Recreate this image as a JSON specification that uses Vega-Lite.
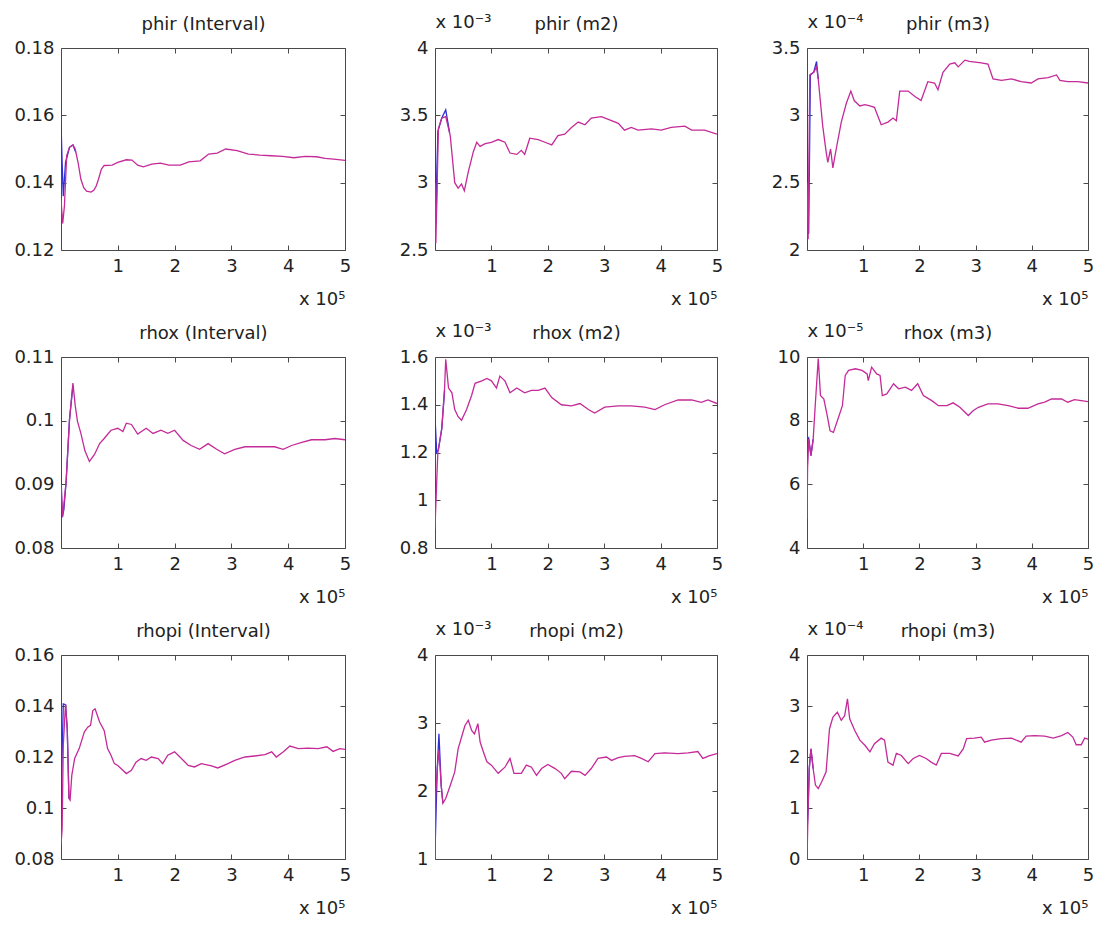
{
"$schema": "https://vega.github.io/schema/vega-lite/v6.json",
"background": "white",
"padding": {"left": 13, "top": 12, "right": 5, "bottom": 5},
"data": {"values": [
{"p":1,"s":"a","x":0,"y":0.158},{"p":1,"s":"a","x":2000,"y":0.146},{"p":1,"s":"a","x":4000,"y":0.136},{"p":1,"s":"a","x":8000,"y":0.146},{"p":1,"s":"a","x":15000,"y":0.1505},{"p":1,"s":"a","x":21000,"y":0.1512},{"p":1,"s":"a","x":26000,"y":0.149},
{"p":1,"s":"b","x":0,"y":0.135},{"p":1,"s":"b","x":3000,"y":0.1279},{"p":1,"s":"b","x":6000,"y":0.133},{"p":1,"s":"b","x":10000,"y":0.148},{"p":1,"s":"b","x":15000,"y":0.1505},{"p":1,"s":"b","x":21000,"y":0.1512},{"p":1,"s":"b","x":25000,"y":0.15},{"p":1,"s":"b","x":30000,"y":0.146},{"p":1,"s":"b","x":35000,"y":0.141},{"p":1,"s":"b","x":40000,"y":0.1385},{"p":1,"s":"b","x":45000,"y":0.1375},{"p":1,"s":"b","x":53000,"y":0.1372},{"p":1,"s":"b","x":58000,"y":0.1378},{"p":1,"s":"b","x":62000,"y":0.139},{"p":1,"s":"b","x":66000,"y":0.141},{"p":1,"s":"b","x":71000,"y":0.144},{"p":1,"s":"b","x":76000,"y":0.1451},{"p":1,"s":"b","x":90000,"y":0.1452},{"p":1,"s":"b","x":100000,"y":0.146},{"p":1,"s":"b","x":115000,"y":0.1468},{"p":1,"s":"b","x":125000,"y":0.1467},{"p":1,"s":"b","x":135000,"y":0.1452},{"p":1,"s":"b","x":145000,"y":0.1447},{"p":1,"s":"b","x":160000,"y":0.1455},{"p":1,"s":"b","x":175000,"y":0.1458},{"p":1,"s":"b","x":190000,"y":0.1452},{"p":1,"s":"b","x":210000,"y":0.1452},{"p":1,"s":"b","x":225000,"y":0.1462},{"p":1,"s":"b","x":245000,"y":0.1465},{"p":1,"s":"b","x":260000,"y":0.1485},{"p":1,"s":"b","x":275000,"y":0.1488},{"p":1,"s":"b","x":290000,"y":0.15},{"p":1,"s":"b","x":310000,"y":0.1495},{"p":1,"s":"b","x":330000,"y":0.1485},{"p":1,"s":"b","x":350000,"y":0.1482},{"p":1,"s":"b","x":370000,"y":0.148},{"p":1,"s":"b","x":390000,"y":0.1478},{"p":1,"s":"b","x":410000,"y":0.1474},{"p":1,"s":"b","x":430000,"y":0.1478},{"p":1,"s":"b","x":450000,"y":0.1477},{"p":1,"s":"b","x":465000,"y":0.1472},{"p":1,"s":"b","x":480000,"y":0.147},{"p":1,"s":"b","x":500000,"y":0.1466},
{"p":2,"s":"a","x":0,"y":3.55e-3},{"p":2,"s":"a","x":2000,"y":2.7e-3},{"p":2,"s":"a","x":5000,"y":3.38e-3},{"p":2,"s":"a","x":12000,"y":3.48e-3},{"p":2,"s":"a","x":19000,"y":3.54e-3},{"p":2,"s":"a","x":26000,"y":3.37e-3},
{"p":2,"s":"b","x":0,"y":3.0e-3},{"p":2,"s":"b","x":1500,"y":2.55e-3},{"p":2,"s":"b","x":6000,"y":3.4e-3},{"p":2,"s":"b","x":12000,"y":3.48e-3},{"p":2,"s":"b","x":19000,"y":3.49e-3},{"p":2,"s":"b","x":27000,"y":3.35e-3},{"p":2,"s":"b","x":35000,"y":3.0e-3},{"p":2,"s":"b","x":41000,"y":2.96e-3},{"p":2,"s":"b","x":47000,"y":2.99e-3},{"p":2,"s":"b","x":52000,"y":2.94e-3},{"p":2,"s":"b","x":59000,"y":3.08e-3},{"p":2,"s":"b","x":68000,"y":3.23e-3},{"p":2,"s":"b","x":74000,"y":3.3e-3},{"p":2,"s":"b","x":80000,"y":3.27e-3},{"p":2,"s":"b","x":89000,"y":3.29e-3},{"p":2,"s":"b","x":100000,"y":3.3e-3},{"p":2,"s":"b","x":112000,"y":3.32e-3},{"p":2,"s":"b","x":124000,"y":3.3e-3},{"p":2,"s":"b","x":133000,"y":3.22e-3},{"p":2,"s":"b","x":145000,"y":3.21e-3},{"p":2,"s":"b","x":153000,"y":3.24e-3},{"p":2,"s":"b","x":159000,"y":3.21e-3},{"p":2,"s":"b","x":168000,"y":3.33e-3},{"p":2,"s":"b","x":183000,"y":3.32e-3},{"p":2,"s":"b","x":195000,"y":3.3e-3},{"p":2,"s":"b","x":207000,"y":3.28e-3},{"p":2,"s":"b","x":218000,"y":3.35e-3},{"p":2,"s":"b","x":230000,"y":3.36e-3},{"p":2,"s":"b","x":242000,"y":3.41e-3},{"p":2,"s":"b","x":254000,"y":3.45e-3},{"p":2,"s":"b","x":266000,"y":3.43e-3},{"p":2,"s":"b","x":277000,"y":3.48e-3},{"p":2,"s":"b","x":295000,"y":3.49e-3},{"p":2,"s":"b","x":313000,"y":3.46e-3},{"p":2,"s":"b","x":325000,"y":3.44e-3},{"p":2,"s":"b","x":336000,"y":3.39e-3},{"p":2,"s":"b","x":348000,"y":3.41e-3},{"p":2,"s":"b","x":360000,"y":3.39e-3},{"p":2,"s":"b","x":384000,"y":3.4e-3},{"p":2,"s":"b","x":401000,"y":3.39e-3},{"p":2,"s":"b","x":419000,"y":3.41e-3},{"p":2,"s":"b","x":443000,"y":3.42e-3},{"p":2,"s":"b","x":455000,"y":3.39e-3},{"p":2,"s":"b","x":478000,"y":3.39e-3},{"p":2,"s":"b","x":500000,"y":3.36e-3},
{"p":3,"s":"a","x":0,"y":3.05e-4},{"p":3,"s":"a","x":1500,"y":2.3e-4},{"p":3,"s":"a","x":3000,"y":2.12e-4},{"p":3,"s":"a","x":6000,"y":3.3e-4},{"p":3,"s":"a","x":12000,"y":3.32e-4},{"p":3,"s":"a","x":17000,"y":3.4e-4},{"p":3,"s":"a","x":20000,"y":3.27e-4},
{"p":3,"s":"b","x":0,"y":2.5e-4},{"p":3,"s":"b","x":2000,"y":2.08e-4},{"p":3,"s":"b","x":5000,"y":3.3e-4},{"p":3,"s":"b","x":12000,"y":3.32e-4},{"p":3,"s":"b","x":17000,"y":3.36e-4},{"p":3,"s":"b","x":20000,"y":3.27e-4},{"p":3,"s":"b","x":28000,"y":2.92e-4},{"p":3,"s":"b","x":34000,"y":2.73e-4},{"p":3,"s":"b","x":37000,"y":2.65e-4},{"p":3,"s":"b","x":42000,"y":2.75e-4},{"p":3,"s":"b","x":46000,"y":2.61e-4},{"p":3,"s":"b","x":52000,"y":2.75e-4},{"p":3,"s":"b","x":61000,"y":2.95e-4},{"p":3,"s":"b","x":70000,"y":3.09e-4},{"p":3,"s":"b","x":78000,"y":3.18e-4},{"p":3,"s":"b","x":84000,"y":3.11e-4},{"p":3,"s":"b","x":94000,"y":3.07e-4},{"p":3,"s":"b","x":103000,"y":3.08e-4},{"p":3,"s":"b","x":112000,"y":3.07e-4},{"p":3,"s":"b","x":120000,"y":3.06e-4},{"p":3,"s":"b","x":132000,"y":2.93e-4},{"p":3,"s":"b","x":144000,"y":2.95e-4},{"p":3,"s":"b","x":153000,"y":2.98e-4},{"p":3,"s":"b","x":159000,"y":2.96e-4},{"p":3,"s":"b","x":165000,"y":3.18e-4},{"p":3,"s":"b","x":180000,"y":3.18e-4},{"p":3,"s":"b","x":192000,"y":3.14e-4},{"p":3,"s":"b","x":203000,"y":3.11e-4},{"p":3,"s":"b","x":215000,"y":3.25e-4},{"p":3,"s":"b","x":227000,"y":3.24e-4},{"p":3,"s":"b","x":233000,"y":3.19e-4},{"p":3,"s":"b","x":242000,"y":3.32e-4},{"p":3,"s":"b","x":254000,"y":3.38e-4},{"p":3,"s":"b","x":263000,"y":3.39e-4},{"p":3,"s":"b","x":269000,"y":3.36e-4},{"p":3,"s":"b","x":281000,"y":3.41e-4},{"p":3,"s":"b","x":289000,"y":3.4e-4},{"p":3,"s":"b","x":310000,"y":3.39e-4},{"p":3,"s":"b","x":322000,"y":3.38e-4},{"p":3,"s":"b","x":331000,"y":3.27e-4},{"p":3,"s":"b","x":346000,"y":3.26e-4},{"p":3,"s":"b","x":364000,"y":3.27e-4},{"p":3,"s":"b","x":381000,"y":3.25e-4},{"p":3,"s":"b","x":399000,"y":3.24e-4},{"p":3,"s":"b","x":411000,"y":3.27e-4},{"p":3,"s":"b","x":429000,"y":3.28e-4},{"p":3,"s":"b","x":444000,"y":3.3e-4},{"p":3,"s":"b","x":450000,"y":3.26e-4},{"p":3,"s":"b","x":464000,"y":3.25e-4},{"p":3,"s":"b","x":482000,"y":3.25e-4},{"p":3,"s":"b","x":500000,"y":3.24e-4},
{"p":4,"s":"a","x":0,"y":0.092},{"p":4,"s":"a","x":2000,"y":0.0848},{"p":4,"s":"a","x":5000,"y":0.086},{"p":4,"s":"a","x":9000,"y":0.0904},{"p":4,"s":"a","x":15000,"y":0.1002},{"p":4,"s":"a","x":21000,"y":0.1055},
{"p":4,"s":"b","x":0,"y":0.09},{"p":4,"s":"b","x":3000,"y":0.0849},{"p":4,"s":"b","x":9000,"y":0.0904},{"p":4,"s":"b","x":15000,"y":0.1002},{"p":4,"s":"b","x":21000,"y":0.1059},{"p":4,"s":"b","x":25000,"y":0.1024},{"p":4,"s":"b","x":29000,"y":0.0999},{"p":4,"s":"b","x":35000,"y":0.098},{"p":4,"s":"b","x":42000,"y":0.0953},{"p":4,"s":"b","x":50000,"y":0.0936},{"p":4,"s":"b","x":59000,"y":0.0947},{"p":4,"s":"b","x":68000,"y":0.0964},{"p":4,"s":"b","x":76000,"y":0.0972},{"p":4,"s":"b","x":88000,"y":0.0985},{"p":4,"s":"b","x":100000,"y":0.0988},{"p":4,"s":"b","x":109000,"y":0.0983},{"p":4,"s":"b","x":115000,"y":0.0996},{"p":4,"s":"b","x":124000,"y":0.0994},{"p":4,"s":"b","x":135000,"y":0.0979},{"p":4,"s":"b","x":150000,"y":0.0988},{"p":4,"s":"b","x":162000,"y":0.098},{"p":4,"s":"b","x":176000,"y":0.0985},{"p":4,"s":"b","x":188000,"y":0.098},{"p":4,"s":"b","x":200000,"y":0.0985},{"p":4,"s":"b","x":215000,"y":0.0969},{"p":4,"s":"b","x":229000,"y":0.0961},{"p":4,"s":"b","x":244000,"y":0.0955},{"p":4,"s":"b","x":259000,"y":0.0964},{"p":4,"s":"b","x":274000,"y":0.0955},{"p":4,"s":"b","x":288000,"y":0.0948},{"p":4,"s":"b","x":306000,"y":0.0955},{"p":4,"s":"b","x":324000,"y":0.0959},{"p":4,"s":"b","x":347000,"y":0.0959},{"p":4,"s":"b","x":376000,"y":0.0959},{"p":4,"s":"b","x":391000,"y":0.0955},{"p":4,"s":"b","x":406000,"y":0.0961},{"p":4,"s":"b","x":424000,"y":0.0966},{"p":4,"s":"b","x":441000,"y":0.097},{"p":4,"s":"b","x":465000,"y":0.097},{"p":4,"s":"b","x":482000,"y":0.0972},{"p":4,"s":"b","x":500000,"y":0.097},
{"p":5,"s":"a","x":0,"y":1.35e-3},{"p":5,"s":"a","x":3000,"y":1.2e-3},{"p":5,"s":"a","x":6000,"y":1.21e-3},{"p":5,"s":"a","x":12000,"y":1.3e-3},{"p":5,"s":"a","x":17000,"y":1.46e-3},
{"p":5,"s":"b","x":0,"y":0.88e-3},{"p":5,"s":"b","x":1000,"y":0.95e-3},{"p":5,"s":"b","x":5000,"y":1.2e-3},{"p":5,"s":"b","x":12000,"y":1.3e-3},{"p":5,"s":"b","x":17000,"y":1.47e-3},{"p":5,"s":"b","x":19000,"y":1.59e-3},{"p":5,"s":"b","x":24000,"y":1.47e-3},{"p":5,"s":"b","x":30000,"y":1.45e-3},{"p":5,"s":"b","x":35000,"y":1.38e-3},{"p":5,"s":"b","x":41000,"y":1.35e-3},{"p":5,"s":"b","x":47000,"y":1.335e-3},{"p":5,"s":"b","x":56000,"y":1.38e-3},{"p":5,"s":"b","x":65000,"y":1.44e-3},{"p":5,"s":"b","x":71000,"y":1.49e-3},{"p":5,"s":"b","x":83000,"y":1.5e-3},{"p":5,"s":"b","x":92000,"y":1.51e-3},{"p":5,"s":"b","x":100000,"y":1.5e-3},{"p":5,"s":"b","x":109000,"y":1.47e-3},{"p":5,"s":"b","x":115000,"y":1.52e-3},{"p":5,"s":"b","x":124000,"y":1.5e-3},{"p":5,"s":"b","x":133000,"y":1.45e-3},{"p":5,"s":"b","x":145000,"y":1.47e-3},{"p":5,"s":"b","x":159000,"y":1.45e-3},{"p":5,"s":"b","x":171000,"y":1.46e-3},{"p":5,"s":"b","x":183000,"y":1.46e-3},{"p":5,"s":"b","x":195000,"y":1.47e-3},{"p":5,"s":"b","x":207000,"y":1.43e-3},{"p":5,"s":"b","x":224000,"y":1.4e-3},{"p":5,"s":"b","x":242000,"y":1.395e-3},{"p":5,"s":"b","x":257000,"y":1.405e-3},{"p":5,"s":"b","x":272000,"y":1.38e-3},{"p":5,"s":"b","x":283000,"y":1.365e-3},{"p":5,"s":"b","x":301000,"y":1.39e-3},{"p":5,"s":"b","x":325000,"y":1.395e-3},{"p":5,"s":"b","x":348000,"y":1.395e-3},{"p":5,"s":"b","x":372000,"y":1.39e-3},{"p":5,"s":"b","x":390000,"y":1.38e-3},{"p":5,"s":"b","x":407000,"y":1.4e-3},{"p":5,"s":"b","x":431000,"y":1.42e-3},{"p":5,"s":"b","x":455000,"y":1.42e-3},{"p":5,"s":"b","x":472000,"y":1.41e-3},{"p":5,"s":"b","x":484000,"y":1.42e-3},{"p":5,"s":"b","x":500000,"y":1.405e-3},
{"p":6,"s":"a","x":0,"y":6.0e-5},{"p":6,"s":"a","x":1500,"y":7.4e-5},{"p":6,"s":"a","x":3000,"y":7.45e-5},{"p":6,"s":"a","x":7000,"y":6.9e-5},{"p":6,"s":"a","x":11000,"y":7.42e-5},
{"p":6,"s":"b","x":0,"y":4.9e-5},{"p":6,"s":"b","x":1000,"y":6.5e-5},{"p":6,"s":"b","x":3000,"y":7.42e-5},{"p":6,"s":"b","x":7000,"y":6.9e-5},{"p":6,"s":"b","x":11000,"y":7.42e-5},{"p":6,"s":"b","x":15000,"y":8.58e-5},{"p":6,"s":"b","x":20000,"y":9.95e-5},{"p":6,"s":"b","x":24000,"y":8.79e-5},{"p":6,"s":"b","x":30000,"y":8.68e-5},{"p":6,"s":"b","x":36000,"y":8.16e-5},{"p":6,"s":"b","x":41000,"y":7.68e-5},{"p":6,"s":"b","x":47000,"y":7.63e-5},{"p":6,"s":"b","x":56000,"y":8.1e-5},{"p":6,"s":"b","x":63000,"y":8.47e-5},{"p":6,"s":"b","x":68000,"y":9.42e-5},{"p":6,"s":"b","x":74000,"y":9.58e-5},{"p":6,"s":"b","x":86000,"y":9.63e-5},{"p":6,"s":"b","x":98000,"y":9.58e-5},{"p":6,"s":"b","x":107000,"y":9.47e-5},{"p":6,"s":"b","x":109000,"y":9.26e-5},{"p":6,"s":"b","x":115000,"y":9.68e-5},{"p":6,"s":"b","x":124000,"y":9.47e-5},{"p":6,"s":"b","x":130000,"y":9.42e-5},{"p":6,"s":"b","x":134000,"y":8.79e-5},{"p":6,"s":"b","x":142000,"y":8.84e-5},{"p":6,"s":"b","x":154000,"y":9.16e-5},{"p":6,"s":"b","x":163000,"y":9.0e-5},{"p":6,"s":"b","x":175000,"y":9.05e-5},{"p":6,"s":"b","x":186000,"y":8.95e-5},{"p":6,"s":"b","x":197000,"y":9.16e-5},{"p":6,"s":"b","x":207000,"y":8.79e-5},{"p":6,"s":"b","x":222000,"y":8.63e-5},{"p":6,"s":"b","x":234000,"y":8.47e-5},{"p":6,"s":"b","x":249000,"y":8.47e-5},{"p":6,"s":"b","x":260000,"y":8.56e-5},{"p":6,"s":"b","x":272000,"y":8.42e-5},{"p":6,"s":"b","x":287000,"y":8.16e-5},{"p":6,"s":"b","x":296000,"y":8.32e-5},{"p":6,"s":"b","x":305000,"y":8.42e-5},{"p":6,"s":"b","x":322000,"y":8.53e-5},{"p":6,"s":"b","x":340000,"y":8.53e-5},{"p":6,"s":"b","x":358000,"y":8.47e-5},{"p":6,"s":"b","x":376000,"y":8.39e-5},{"p":6,"s":"b","x":393000,"y":8.39e-5},{"p":6,"s":"b","x":411000,"y":8.53e-5},{"p":6,"s":"b","x":423000,"y":8.58e-5},{"p":6,"s":"b","x":435000,"y":8.68e-5},{"p":6,"s":"b","x":453000,"y":8.68e-5},{"p":6,"s":"b","x":464000,"y":8.58e-5},{"p":6,"s":"b","x":476000,"y":8.66e-5},{"p":6,"s":"b","x":488000,"y":8.63e-5},{"p":6,"s":"b","x":500000,"y":8.6e-5},
{"p":7,"s":"a","x":0,"y":0.1},{"p":7,"s":"a","x":4000,"y":0.1408},{"p":7,"s":"a","x":8000,"y":0.1405},{"p":7,"s":"a","x":11000,"y":0.131},{"p":7,"s":"a","x":14000,"y":0.1037},
{"p":7,"s":"b","x":0,"y":0.0855},{"p":7,"s":"b","x":2000,"y":0.092},{"p":7,"s":"b","x":4000,"y":0.1246},{"p":7,"s":"b","x":8000,"y":0.1408},{"p":7,"s":"b","x":11000,"y":0.131},{"p":7,"s":"b","x":14000,"y":0.1037},{"p":7,"s":"b","x":16000,"y":0.1031},{"p":7,"s":"b","x":19000,"y":0.1128},{"p":7,"s":"b","x":24000,"y":0.1194},{"p":7,"s":"b","x":32000,"y":0.1233},{"p":7,"s":"b","x":41000,"y":0.1298},{"p":7,"s":"b","x":47000,"y":0.1317},{"p":7,"s":"b","x":52000,"y":0.1324},{"p":7,"s":"b","x":56000,"y":0.1382},{"p":7,"s":"b","x":60000,"y":0.1389},{"p":7,"s":"b","x":68000,"y":0.1337},{"p":7,"s":"b","x":76000,"y":0.1304},{"p":7,"s":"b","x":82000,"y":0.1233},{"p":7,"s":"b","x":88000,"y":0.1207},{"p":7,"s":"b","x":94000,"y":0.1174},{"p":7,"s":"b","x":100000,"y":0.1167},{"p":7,"s":"b","x":106000,"y":0.1154},{"p":7,"s":"b","x":115000,"y":0.1135},{"p":7,"s":"b","x":124000,"y":0.1148},{"p":7,"s":"b","x":132000,"y":0.118},{"p":7,"s":"b","x":141000,"y":0.1194},{"p":7,"s":"b","x":150000,"y":0.1187},{"p":7,"s":"b","x":159000,"y":0.12},{"p":7,"s":"b","x":171000,"y":0.1194},{"p":7,"s":"b","x":179000,"y":0.1174},{"p":7,"s":"b","x":188000,"y":0.1207},{"p":7,"s":"b","x":200000,"y":0.122},{"p":7,"s":"b","x":212000,"y":0.1194},{"p":7,"s":"b","x":224000,"y":0.1167},{"p":7,"s":"b","x":235000,"y":0.1161},{"p":7,"s":"b","x":247000,"y":0.1174},{"p":7,"s":"b","x":265000,"y":0.1165},{"p":7,"s":"b","x":276000,"y":0.1157},{"p":7,"s":"b","x":294000,"y":0.1174},{"p":7,"s":"b","x":306000,"y":0.1187},{"p":7,"s":"b","x":324000,"y":0.12},{"p":7,"s":"b","x":341000,"y":0.1204},{"p":7,"s":"b","x":359000,"y":0.1209},{"p":7,"s":"b","x":371000,"y":0.122},{"p":7,"s":"b","x":379000,"y":0.12},{"p":7,"s":"b","x":391000,"y":0.122},{"p":7,"s":"b","x":403000,"y":0.1243},{"p":7,"s":"b","x":418000,"y":0.1233},{"p":7,"s":"b","x":435000,"y":0.1235},{"p":7,"s":"b","x":453000,"y":0.1233},{"p":7,"s":"b","x":468000,"y":0.124},{"p":7,"s":"b","x":479000,"y":0.1222},{"p":7,"s":"b","x":491000,"y":0.1233},{"p":7,"s":"b","x":500000,"y":0.123},
{"p":8,"s":"a","x":0,"y":1.1e-3},{"p":8,"s":"a","x":4000,"y":2.33e-3},{"p":8,"s":"a","x":7000,"y":2.84e-3},{"p":8,"s":"a","x":11000,"y":2.08e-3},{"p":8,"s":"a","x":14000,"y":1.82e-3},
{"p":8,"s":"b","x":0,"y":1.0e-3},{"p":8,"s":"b","x":1000,"y":1.89e-3},{"p":8,"s":"b","x":4000,"y":2.33e-3},{"p":8,"s":"b","x":7000,"y":2.6e-3},{"p":8,"s":"b","x":11000,"y":2.08e-3},{"p":8,"s":"b","x":14000,"y":1.82e-3},{"p":8,"s":"b","x":19000,"y":1.89e-3},{"p":8,"s":"b","x":27000,"y":2.08e-3},{"p":8,"s":"b","x":35000,"y":2.28e-3},{"p":8,"s":"b","x":41000,"y":2.62e-3},{"p":8,"s":"b","x":47000,"y":2.79e-3},{"p":8,"s":"b","x":53000,"y":2.96e-3},{"p":8,"s":"b","x":59000,"y":3.04e-3},{"p":8,"s":"b","x":65000,"y":2.89e-3},{"p":8,"s":"b","x":70000,"y":2.84e-3},{"p":8,"s":"b","x":76000,"y":2.99e-3},{"p":8,"s":"b","x":80000,"y":2.72e-3},{"p":8,"s":"b","x":86000,"y":2.57e-3},{"p":8,"s":"b","x":92000,"y":2.43e-3},{"p":8,"s":"b","x":100000,"y":2.38e-3},{"p":8,"s":"b","x":112000,"y":2.26e-3},{"p":8,"s":"b","x":124000,"y":2.35e-3},{"p":8,"s":"b","x":133000,"y":2.48e-3},{"p":8,"s":"b","x":140000,"y":2.26e-3},{"p":8,"s":"b","x":153000,"y":2.26e-3},{"p":8,"s":"b","x":162000,"y":2.38e-3},{"p":8,"s":"b","x":171000,"y":2.35e-3},{"p":8,"s":"b","x":180000,"y":2.23e-3},{"p":8,"s":"b","x":189000,"y":2.33e-3},{"p":8,"s":"b","x":200000,"y":2.39e-3},{"p":8,"s":"b","x":213000,"y":2.33e-3},{"p":8,"s":"b","x":224000,"y":2.26e-3},{"p":8,"s":"b","x":230000,"y":2.18e-3},{"p":8,"s":"b","x":242000,"y":2.29e-3},{"p":8,"s":"b","x":257000,"y":2.28e-3},{"p":8,"s":"b","x":266000,"y":2.23e-3},{"p":8,"s":"b","x":277000,"y":2.33e-3},{"p":8,"s":"b","x":289000,"y":2.48e-3},{"p":8,"s":"b","x":304000,"y":2.5e-3},{"p":8,"s":"b","x":313000,"y":2.45e-3},{"p":8,"s":"b","x":325000,"y":2.49e-3},{"p":8,"s":"b","x":336000,"y":2.51e-3},{"p":8,"s":"b","x":354000,"y":2.52e-3},{"p":8,"s":"b","x":366000,"y":2.48e-3},{"p":8,"s":"b","x":378000,"y":2.43e-3},{"p":8,"s":"b","x":390000,"y":2.55e-3},{"p":8,"s":"b","x":407000,"y":2.56e-3},{"p":8,"s":"b","x":431000,"y":2.55e-3},{"p":8,"s":"b","x":449000,"y":2.56e-3},{"p":8,"s":"b","x":466000,"y":2.58e-3},{"p":8,"s":"b","x":475000,"y":2.48e-3},{"p":8,"s":"b","x":487000,"y":2.52e-3},{"p":8,"s":"b","x":500000,"y":2.55e-3},
{"p":9,"s":"a","x":0,"y":0.5e-4},{"p":9,"s":"a","x":2000,"y":0.99e-4},{"p":9,"s":"a","x":4000,"y":1.77e-4},{"p":9,"s":"a","x":7000,"y":2.16e-4},{"p":9,"s":"a","x":11000,"y":1.77e-4},
{"p":9,"s":"b","x":0,"y":0.0},{"p":9,"s":"b","x":2000,"y":0.99e-4},{"p":9,"s":"b","x":4000,"y":1.77e-4},{"p":9,"s":"b","x":7000,"y":2.16e-4},{"p":9,"s":"b","x":11000,"y":1.77e-4},{"p":9,"s":"b","x":15000,"y":1.45e-4},{"p":9,"s":"b","x":20000,"y":1.38e-4},{"p":9,"s":"b","x":26000,"y":1.51e-4},{"p":9,"s":"b","x":34000,"y":1.71e-4},{"p":9,"s":"b","x":40000,"y":2.55e-4},{"p":9,"s":"b","x":46000,"y":2.78e-4},{"p":9,"s":"b","x":54000,"y":2.88e-4},{"p":9,"s":"b","x":61000,"y":2.72e-4},{"p":9,"s":"b","x":67000,"y":2.81e-4},{"p":9,"s":"b","x":72000,"y":3.14e-4},{"p":9,"s":"b","x":76000,"y":2.75e-4},{"p":9,"s":"b","x":85000,"y":2.52e-4},{"p":9,"s":"b","x":94000,"y":2.33e-4},{"p":9,"s":"b","x":103000,"y":2.23e-4},{"p":9,"s":"b","x":112000,"y":2.1e-4},{"p":9,"s":"b","x":120000,"y":2.26e-4},{"p":9,"s":"b","x":132000,"y":2.37e-4},{"p":9,"s":"b","x":138000,"y":2.33e-4},{"p":9,"s":"b","x":144000,"y":1.9e-4},{"p":9,"s":"b","x":153000,"y":1.84e-4},{"p":9,"s":"b","x":159000,"y":2.07e-4},{"p":9,"s":"b","x":168000,"y":2.03e-4},{"p":9,"s":"b","x":180000,"y":1.87e-4},{"p":9,"s":"b","x":189000,"y":1.97e-4},{"p":9,"s":"b","x":200000,"y":2.03e-4},{"p":9,"s":"b","x":212000,"y":1.97e-4},{"p":9,"s":"b","x":221000,"y":1.9e-4},{"p":9,"s":"b","x":230000,"y":1.84e-4},{"p":9,"s":"b","x":239000,"y":2.07e-4},{"p":9,"s":"b","x":254000,"y":2.07e-4},{"p":9,"s":"b","x":269000,"y":2.02e-4},{"p":9,"s":"b","x":278000,"y":2.16e-4},{"p":9,"s":"b","x":284000,"y":2.36e-4},{"p":9,"s":"b","x":298000,"y":2.37e-4},{"p":9,"s":"b","x":310000,"y":2.39e-4},{"p":9,"s":"b","x":316000,"y":2.29e-4},{"p":9,"s":"b","x":328000,"y":2.33e-4},{"p":9,"s":"b","x":346000,"y":2.36e-4},{"p":9,"s":"b","x":364000,"y":2.37e-4},{"p":9,"s":"b","x":381000,"y":2.29e-4},{"p":9,"s":"b","x":390000,"y":2.41e-4},{"p":9,"s":"b","x":405000,"y":2.42e-4},{"p":9,"s":"b","x":423000,"y":2.41e-4},{"p":9,"s":"b","x":438000,"y":2.37e-4},{"p":9,"s":"b","x":453000,"y":2.42e-4},{"p":9,"s":"b","x":464000,"y":2.48e-4},{"p":9,"s":"b","x":473000,"y":2.39e-4},{"p":9,"s":"b","x":479000,"y":2.24e-4},{"p":9,"s":"b","x":488000,"y":2.24e-4},{"p":9,"s":"b","x":494000,"y":2.37e-4},{"p":9,"s":"b","x":500000,"y":2.35e-4}
]},
"columns": 3,
"spacing": {"row": 107, "column": 90},
"bounds": "flush",
"concat": [
{"width": 284, "height": 202, "transform": [{"filter": "datum.p == 1"}],
 "layer": [
  {"transform": [{"filter": "datum.s == 'a'"}], "mark": {"type": "line", "color": "#2f2fd6", "strokeWidth": 1.3, "clip": true},
   "encoding": {"x": {"field": "x", "type": "quantitative", "scale": {"domain": [0, 500000], "nice": false, "zero": false}, "axis": {"orient": "top", "values": [100000,200000,300000,400000,500000], "labels": false, "title": "phir (Interval)"}},
                "y": {"field": "y", "type": "quantitative", "scale": {"domain": [0.12, 0.18], "nice": false, "zero": false}, "axis": {"orient": "right", "values": [0.12,0.14,0.16,0.18], "labels": false, "title": null}}}},
  {"transform": [{"filter": "datum.s == 'b'"}], "mark": {"type": "line", "color": "#c42a98", "strokeWidth": 1.3, "clip": true},
   "encoding": {"x": {"field": "x", "type": "quantitative", "scale": {"domain": [0, 500000], "nice": false, "zero": false}, "axis": {"orient": "bottom", "values": [100000,200000,300000,400000,500000], "labelExpr": "format(datum.value/100000, 'd')", "title": "x 10⁵"}},
                "y": {"field": "y", "type": "quantitative", "scale": {"domain": [0.12, 0.18], "nice": false, "zero": false}, "axis": {"orient": "left", "values": [0.12,0.14,0.16,0.18], "labelExpr": "format(datum.value, '~g')", "title": null}}}}
 ],
 "resolve": {"axis": {"x": "independent", "y": "independent"}}},
{"width": 282, "height": 202, "transform": [{"filter": "datum.p == 2"}],
 "layer": [
  {"transform": [{"filter": "datum.s == 'a'"}], "mark": {"type": "line", "color": "#2f2fd6", "strokeWidth": 1.3, "clip": true},
   "encoding": {"x": {"field": "x", "type": "quantitative", "scale": {"domain": [0, 500000], "nice": false, "zero": false}, "axis": {"orient": "top", "values": [100000,200000,300000,400000,500000], "labels": false, "title": "phir (m2)"}},
                "y": {"field": "y", "type": "quantitative", "scale": {"domain": [0.0025, 0.004], "nice": false, "zero": false}, "axis": {"orient": "right", "values": [0.0025,0.003,0.0035,0.004], "labels": false, "title": null}}}},
  {"transform": [{"filter": "datum.s == 'b'"}], "mark": {"type": "line", "color": "#c42a98", "strokeWidth": 1.3, "clip": true},
   "encoding": {"x": {"field": "x", "type": "quantitative", "scale": {"domain": [0, 500000], "nice": false, "zero": false}, "axis": {"orient": "bottom", "values": [100000,200000,300000,400000,500000], "labelExpr": "format(datum.value/100000, 'd')", "title": "x 10⁵"}},
                "y": {"field": "y", "type": "quantitative", "scale": {"domain": [0.0025, 0.004], "nice": false, "zero": false}, "axis": {"orient": "left", "values": [0.0025,0.003,0.0035,0.004], "labelExpr": "format(datum.value*1000, '~g')", "title": "x 10⁻³"}}}}
 ],
 "resolve": {"axis": {"x": "independent", "y": "independent"}}},
{"width": 281, "height": 202, "transform": [{"filter": "datum.p == 3"}],
 "layer": [
  {"transform": [{"filter": "datum.s == 'a'"}], "mark": {"type": "line", "color": "#2f2fd6", "strokeWidth": 1.3, "clip": true},
   "encoding": {"x": {"field": "x", "type": "quantitative", "scale": {"domain": [0, 500000], "nice": false, "zero": false}, "axis": {"orient": "top", "values": [100000,200000,300000,400000,500000], "labels": false, "title": "phir (m3)"}},
                "y": {"field": "y", "type": "quantitative", "scale": {"domain": [0.0002, 0.00035], "nice": false, "zero": false}, "axis": {"orient": "right", "values": [0.0002,0.00025,0.0003,0.00035], "labels": false, "title": null}}}},
  {"transform": [{"filter": "datum.s == 'b'"}], "mark": {"type": "line", "color": "#c42a98", "strokeWidth": 1.3, "clip": true},
   "encoding": {"x": {"field": "x", "type": "quantitative", "scale": {"domain": [0, 500000], "nice": false, "zero": false}, "axis": {"orient": "bottom", "values": [100000,200000,300000,400000,500000], "labelExpr": "format(datum.value/100000, 'd')", "title": "x 10⁵"}},
                "y": {"field": "y", "type": "quantitative", "scale": {"domain": [0.0002, 0.00035], "nice": false, "zero": false}, "axis": {"orient": "left", "values": [0.0002,0.00025,0.0003,0.00035], "labelExpr": "format(datum.value*10000, '~g')", "title": "x 10⁻⁴"}}}}
 ],
 "resolve": {"axis": {"x": "independent", "y": "independent"}}},
{"width": 284, "height": 191, "transform": [{"filter": "datum.p == 4"}],
 "layer": [
  {"transform": [{"filter": "datum.s == 'a'"}], "mark": {"type": "line", "color": "#2f2fd6", "strokeWidth": 1.3, "clip": true},
   "encoding": {"x": {"field": "x", "type": "quantitative", "scale": {"domain": [0, 500000], "nice": false, "zero": false}, "axis": {"orient": "top", "values": [100000,200000,300000,400000,500000], "labels": false, "title": "rhox (Interval)"}},
                "y": {"field": "y", "type": "quantitative", "scale": {"domain": [0.08, 0.11], "nice": false, "zero": false}, "axis": {"orient": "right", "values": [0.08,0.09,0.1,0.11], "labels": false, "title": null}}}},
  {"transform": [{"filter": "datum.s == 'b'"}], "mark": {"type": "line", "color": "#c42a98", "strokeWidth": 1.3, "clip": true},
   "encoding": {"x": {"field": "x", "type": "quantitative", "scale": {"domain": [0, 500000], "nice": false, "zero": false}, "axis": {"orient": "bottom", "values": [100000,200000,300000,400000,500000], "labelExpr": "format(datum.value/100000, 'd')", "title": "x 10⁵"}},
                "y": {"field": "y", "type": "quantitative", "scale": {"domain": [0.08, 0.11], "nice": false, "zero": false}, "axis": {"orient": "left", "values": [0.08,0.09,0.1,0.11], "labelExpr": "format(datum.value, '~g')", "title": null}}}}
 ],
 "resolve": {"axis": {"x": "independent", "y": "independent"}}},
{"width": 282, "height": 191, "transform": [{"filter": "datum.p == 5"}],
 "layer": [
  {"transform": [{"filter": "datum.s == 'a'"}], "mark": {"type": "line", "color": "#2f2fd6", "strokeWidth": 1.3, "clip": true},
   "encoding": {"x": {"field": "x", "type": "quantitative", "scale": {"domain": [0, 500000], "nice": false, "zero": false}, "axis": {"orient": "top", "values": [100000,200000,300000,400000,500000], "labels": false, "title": "rhox (m2)"}},
                "y": {"field": "y", "type": "quantitative", "scale": {"domain": [0.0008, 0.0016], "nice": false, "zero": false}, "axis": {"orient": "right", "values": [0.0008,0.001,0.0012,0.0014,0.0016], "labels": false, "title": null}}}},
  {"transform": [{"filter": "datum.s == 'b'"}], "mark": {"type": "line", "color": "#c42a98", "strokeWidth": 1.3, "clip": true},
   "encoding": {"x": {"field": "x", "type": "quantitative", "scale": {"domain": [0, 500000], "nice": false, "zero": false}, "axis": {"orient": "bottom", "values": [100000,200000,300000,400000,500000], "labelExpr": "format(datum.value/100000, 'd')", "title": "x 10⁵"}},
                "y": {"field": "y", "type": "quantitative", "scale": {"domain": [0.0008, 0.0016], "nice": false, "zero": false}, "axis": {"orient": "left", "values": [0.0008,0.001,0.0012,0.0014,0.0016], "labelExpr": "format(datum.value*1000, '~g')", "title": "x 10⁻³"}}}}
 ],
 "resolve": {"axis": {"x": "independent", "y": "independent"}}},
{"width": 281, "height": 191, "transform": [{"filter": "datum.p == 6"}],
 "layer": [
  {"transform": [{"filter": "datum.s == 'a'"}], "mark": {"type": "line", "color": "#2f2fd6", "strokeWidth": 1.3, "clip": true},
   "encoding": {"x": {"field": "x", "type": "quantitative", "scale": {"domain": [0, 500000], "nice": false, "zero": false}, "axis": {"orient": "top", "values": [100000,200000,300000,400000,500000], "labels": false, "title": "rhox (m3)"}},
                "y": {"field": "y", "type": "quantitative", "scale": {"domain": [0.00004, 0.0001], "nice": false, "zero": false}, "axis": {"orient": "right", "values": [0.00004,0.00006,0.00008,0.0001], "labels": false, "title": null}}}},
  {"transform": [{"filter": "datum.s == 'b'"}], "mark": {"type": "line", "color": "#c42a98", "strokeWidth": 1.3, "clip": true},
   "encoding": {"x": {"field": "x", "type": "quantitative", "scale": {"domain": [0, 500000], "nice": false, "zero": false}, "axis": {"orient": "bottom", "values": [100000,200000,300000,400000,500000], "labelExpr": "format(datum.value/100000, 'd')", "title": "x 10⁵"}},
                "y": {"field": "y", "type": "quantitative", "scale": {"domain": [0.00004, 0.0001], "nice": false, "zero": false}, "axis": {"orient": "left", "values": [0.00004,0.00006,0.00008,0.0001], "labelExpr": "format(datum.value*100000, '~g')", "title": "x 10⁻⁵"}}}}
 ],
 "resolve": {"axis": {"x": "independent", "y": "independent"}}},
{"width": 284, "height": 204, "transform": [{"filter": "datum.p == 7"}],
 "layer": [
  {"transform": [{"filter": "datum.s == 'a'"}], "mark": {"type": "line", "color": "#2f2fd6", "strokeWidth": 1.3, "clip": true},
   "encoding": {"x": {"field": "x", "type": "quantitative", "scale": {"domain": [0, 500000], "nice": false, "zero": false}, "axis": {"orient": "top", "values": [100000,200000,300000,400000,500000], "labels": false, "title": "rhopi (Interval)"}},
                "y": {"field": "y", "type": "quantitative", "scale": {"domain": [0.08, 0.16], "nice": false, "zero": false}, "axis": {"orient": "right", "values": [0.08,0.1,0.12,0.14,0.16], "labels": false, "title": null}}}},
  {"transform": [{"filter": "datum.s == 'b'"}], "mark": {"type": "line", "color": "#c42a98", "strokeWidth": 1.3, "clip": true},
   "encoding": {"x": {"field": "x", "type": "quantitative", "scale": {"domain": [0, 500000], "nice": false, "zero": false}, "axis": {"orient": "bottom", "values": [100000,200000,300000,400000,500000], "labelExpr": "format(datum.value/100000, 'd')", "title": "x 10⁵"}},
                "y": {"field": "y", "type": "quantitative", "scale": {"domain": [0.08, 0.16], "nice": false, "zero": false}, "axis": {"orient": "left", "values": [0.08,0.1,0.12,0.14,0.16], "labelExpr": "format(datum.value, '~g')", "title": null}}}}
 ],
 "resolve": {"axis": {"x": "independent", "y": "independent"}}},
{"width": 282, "height": 204, "transform": [{"filter": "datum.p == 8"}],
 "layer": [
  {"transform": [{"filter": "datum.s == 'a'"}], "mark": {"type": "line", "color": "#2f2fd6", "strokeWidth": 1.3, "clip": true},
   "encoding": {"x": {"field": "x", "type": "quantitative", "scale": {"domain": [0, 500000], "nice": false, "zero": false}, "axis": {"orient": "top", "values": [100000,200000,300000,400000,500000], "labels": false, "title": "rhopi (m2)"}},
                "y": {"field": "y", "type": "quantitative", "scale": {"domain": [0.001, 0.004], "nice": false, "zero": false}, "axis": {"orient": "right", "values": [0.001,0.002,0.003,0.004], "labels": false, "title": null}}}},
  {"transform": [{"filter": "datum.s == 'b'"}], "mark": {"type": "line", "color": "#c42a98", "strokeWidth": 1.3, "clip": true},
   "encoding": {"x": {"field": "x", "type": "quantitative", "scale": {"domain": [0, 500000], "nice": false, "zero": false}, "axis": {"orient": "bottom", "values": [100000,200000,300000,400000,500000], "labelExpr": "format(datum.value/100000, 'd')", "title": "x 10⁵"}},
                "y": {"field": "y", "type": "quantitative", "scale": {"domain": [0.001, 0.004], "nice": false, "zero": false}, "axis": {"orient": "left", "values": [0.001,0.002,0.003,0.004], "labelExpr": "format(datum.value*1000, '~g')", "title": "x 10⁻³"}}}}
 ],
 "resolve": {"axis": {"x": "independent", "y": "independent"}}},
{"width": 281, "height": 204, "transform": [{"filter": "datum.p == 9"}],
 "layer": [
  {"transform": [{"filter": "datum.s == 'a'"}], "mark": {"type": "line", "color": "#2f2fd6", "strokeWidth": 1.3, "clip": true},
   "encoding": {"x": {"field": "x", "type": "quantitative", "scale": {"domain": [0, 500000], "nice": false, "zero": false}, "axis": {"orient": "top", "values": [100000,200000,300000,400000,500000], "labels": false, "title": "rhopi (m3)"}},
                "y": {"field": "y", "type": "quantitative", "scale": {"domain": [0, 0.0004], "nice": false, "zero": false}, "axis": {"orient": "right", "values": [0,0.0001,0.0002,0.0003,0.0004], "labels": false, "title": null}}}},
  {"transform": [{"filter": "datum.s == 'b'"}], "mark": {"type": "line", "color": "#c42a98", "strokeWidth": 1.3, "clip": true},
   "encoding": {"x": {"field": "x", "type": "quantitative", "scale": {"domain": [0, 500000], "nice": false, "zero": false}, "axis": {"orient": "bottom", "values": [100000,200000,300000,400000,500000], "labelExpr": "format(datum.value/100000, 'd')", "title": "x 10⁵"}},
                "y": {"field": "y", "type": "quantitative", "scale": {"domain": [0, 0.0004], "nice": false, "zero": false}, "axis": {"orient": "left", "values": [0,0.0001,0.0002,0.0003,0.0004], "labelExpr": "format(datum.value*10000, '~g')", "title": "x 10⁻⁴"}}}}
 ],
 "resolve": {"axis": {"x": "independent", "y": "independent"}}}
],
"config": {
 "font": "DejaVu Sans",
 "view": {"stroke": "#4a4a4a", "strokeWidth": 1},
 "axis": {"domain": false, "grid": false, "ticks": true, "tickColor": "#4a4a4a", "tickSize": -5, "tickWidth": 1,
          "labelFont": "DejaVu Sans", "labelFontSize": 18, "labelColor": "#222222", "labelPadding": 12,
          "titleFont": "DejaVu Sans", "titleFontSize": 18, "titleFontWeight": "normal", "titleColor": "#222222"},
 "axisBottom": {"titleAnchor": "end", "titleAlign": "right", "titlePadding": 15, "labelFlush": false},
 "axisTop": {"titleY": -19, "titleBaseline": "alphabetic"},
 "axisLeft": {"titleAngle": 0, "titleX": 0, "titleY": -21, "titleAlign": "left", "titleBaseline": "alphabetic", "labelFlush": false}
}
}
